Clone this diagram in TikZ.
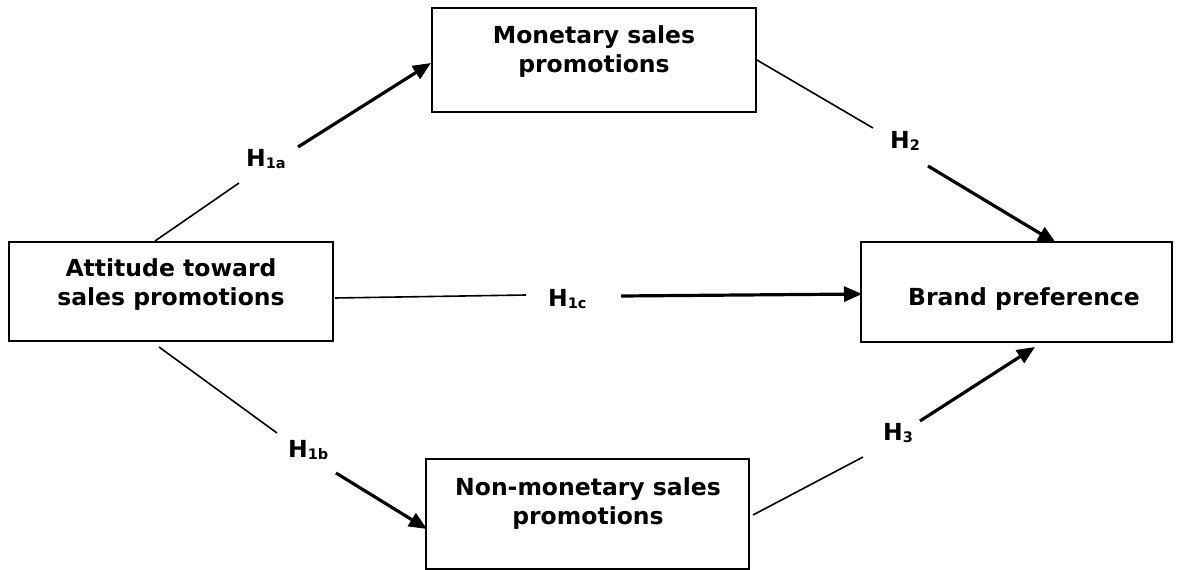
\documentclass[tikz,border=0pt]{standalone}
\usepackage{fontspec}
\setmainfont{DejaVu Sans}
\usetikzlibrary{arrows.meta}
\begin{document}
\begin{tikzpicture}[x=1pt,y=-1pt,
  box/.style={draw, line width=1.8pt, inner sep=0pt},
  boxtext/.style={font=\fontsize{23.5}{29}\selectfont\bfseries, align=center, inner sep=0pt, anchor=base},
  hlab/.style={font=\fontsize{23.5}{29}\selectfont\bfseries, inner sep=0pt, anchor=base west},
  thinline/.style={line width=1.6pt},
  thickarrow/.style={line width=3.2pt, -{Triangle[length=18pt,width=15pt]}}]
\useasboundingbox (0,0) rectangle (1179,570);
\newcommand{\hsub}[1]{\raisebox{-2.5pt}{\fontsize{14.5}{14.5}\selectfont\bfseries #1}}
% boxes
\node[box, minimum width=324pt, minimum height=104pt] (mon) at (594,60) {};
\node[box, minimum width=324pt, minimum height=99pt] (att) at (171,291.5) {};
\node[box, minimum width=311pt, minimum height=100pt] (brand) at (1016.5,292) {};
\node[box, minimum width=323pt, minimum height=110pt] (nm) at (587.5,514) {};
% box texts (base = baseline of last line)
\node[boxtext] (montext) at (594,72) {Monetary sales\\promotions};
\node[boxtext] (atttext) at (171,305) {Attitude toward\\sales promotions};
\node[boxtext] (brandtext) at (1024,305) {Brand preference};
\node[boxtext] (nmtext) at (588,524) {Non-monetary sales\\promotions};
% labels
\node[hlab] (h1a) at (246,166) {H\hsub{1a}};
\node[hlab] (h2) at (890,148) {H\hsub{2}};
\node[hlab] (h1c) at (548,306) {H\hsub{1c}};
\node[hlab] (h1b) at (288,457) {H\hsub{1b}};
\node[hlab] (h3) at (883,440) {H\hsub{3}};
% connector coordinates
\coordinate (a1s) at (155,241);
\coordinate (a1m) at (239,183);
\coordinate (a1n) at (298,147);
\coordinate (a1e) at (431,63);
\coordinate (b2m) at (873,128);
\coordinate (b2n) at (928,166);
\coordinate (b2e) at (1056,243);
\coordinate (c1s) at (335,298);
\coordinate (c1m) at (526,295);
\coordinate (c1n) at (621,296);
\coordinate (c1e) at (862,294);
\coordinate (d1s) at (159,347);
\coordinate (d1m) at (277,433);
\coordinate (d1n) at (336,473);
\coordinate (d1e) at (427,529);
\coordinate (e3s) at (753,515);
\coordinate (e3m) at (863,457);
\coordinate (e3n) at (920,421);
\coordinate (e3e) at (1035,347);
% connectors
\draw[thinline] (a1s) -- (a1m);
\draw[thickarrow] (a1n) -- (a1e);
\draw[thinline] (mon.east) -- (b2m);
\draw[thickarrow] (b2n) -- (b2e);
\draw[thinline] (c1s) -- (c1m);
\draw[thickarrow] (c1n) -- (c1e);
\draw[thinline] (d1s) -- (d1m);
\draw[thickarrow] (d1n) -- (d1e);
\draw[thinline] (e3s) -- (e3m);
\draw[thickarrow] (e3n) -- (e3e);
\end{tikzpicture}
\end{document}
